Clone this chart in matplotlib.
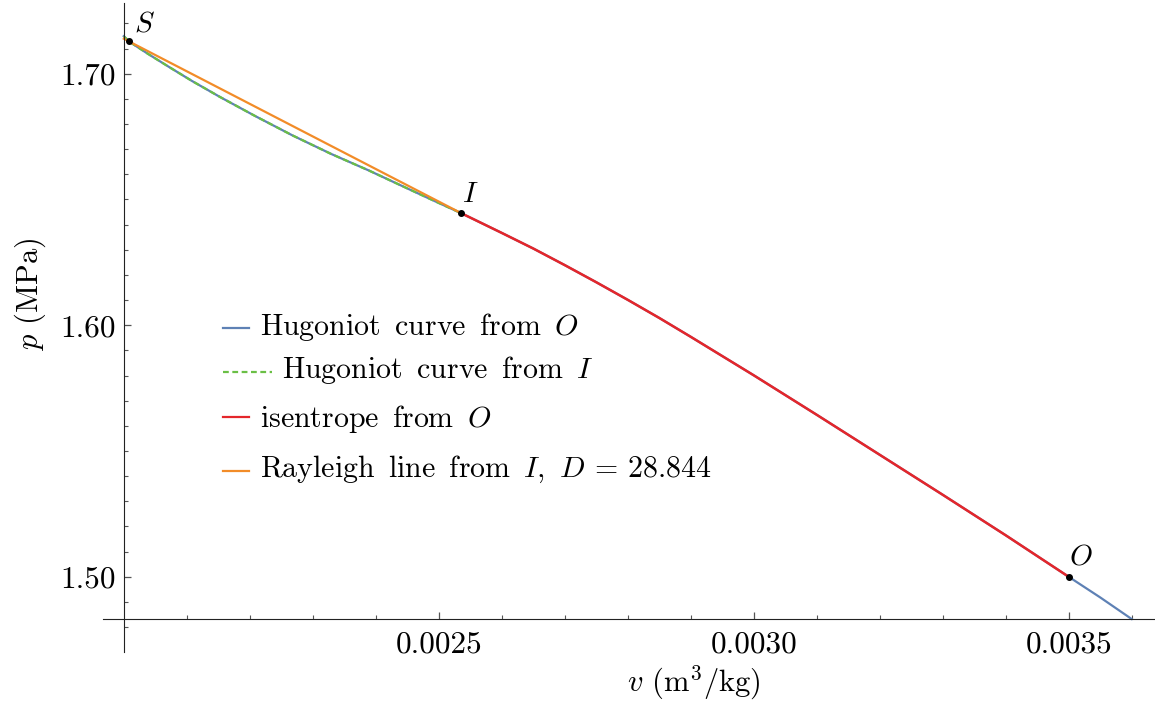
import matplotlib
matplotlib.use("Agg")
import matplotlib.pyplot as plt
from matplotlib.lines import Line2D
from matplotlib.ticker import MultipleLocator, FixedLocator

plt.rcParams["font.family"] = "cmr10"
plt.rcParams["mathtext.fontset"] = "cm"
plt.rcParams["axes.formatter.use_mathtext"] = True

# Hugoniot curve from I (specific volume m^3/kg, pressure MPa)
v_hug_I = [0.0020, 0.0020083, 0.0020383, 0.0020723, 0.0021083, 0.0021523, 0.0022083,
           0.0022683, 0.0023283, 0.0023883, 0.0024483, 0.0024983, 0.002536]
p_hug_I = [1.7149, 1.7128, 1.7079, 1.7026, 1.6971, 1.6908, 1.6832,
           1.6754, 1.6682, 1.6616, 1.6546, 1.6488, 1.6445]

# isentrope from O
v_isen = [0.002536, 0.0026, 0.00265, 0.0027, 0.00275, 0.0028, 0.00285, 0.0029, 0.0030,
          0.0031, 0.0032, 0.0033, 0.0034, 0.0035]
p_isen = [1.6445, 1.6367, 1.6305, 1.6239, 1.6171, 1.6101, 1.6029, 1.5954, 1.5801,
          1.5644, 1.5485, 1.5326, 1.5165, 1.5000]

# Hugoniot curve from O: same branch up to I, under the isentrope to O, then beyond O
v_hug_O = v_hug_I + v_isen[1:] + [0.00355, 0.0036]
p_hug_O = p_hug_I + p_isen[1:] + [1.4918, 1.4832]

# Rayleigh line from I
v_ray = [0.0020, 0.002536]
p_ray = [1.7139, 1.6445]

# labelled states
pt_names = ["S", "I", "O"]
pt_v = [0.0020083, 0.002536, 0.0035]
pt_p = [1.7128, 1.6445, 1.5000]

blue = "#5E81B5"
green = "#6ABF45"
red = "#E4262B"
orange = "#F28C28"
dash = (0, (2.6, 1.6))

W, H = 1155, 702
fig = plt.figure(figsize=(W / 100, H / 100), dpi=100)
ax = fig.add_axes([103 / W, 50 / H, 1052 / W, 649 / H])

ax.plot(v_hug_O, p_hug_O, color=blue, lw=1.6)
ax.plot(v_hug_I, p_hug_I, color=green, lw=1.6, ls=dash)
ax.plot(v_isen, p_isen, color=red, lw=1.8)
ax.plot(v_ray, p_ray, color=orange, lw=1.6)

ax.plot(pt_v, pt_p, "o", color="black", ms=4, zorder=5)
offsets = {"S": (11, 12), "I": (6.5, 13.5), "O": (8.5, 14)}
for name, vv, pp in zip(pt_names, pt_v, pt_p):
    ax.annotate("$%s$" % name, (vv, pp), xytext=offsets[name], textcoords="offset points",
                ha="center", va="center", fontsize=21)

ax.set_xlim(0.001967, 0.003637)
ax.set_ylim(1.4701, 1.7281)

for s in ["top", "right"]:
    ax.spines[s].set_visible(False)
ax.spines["left"].set_position(("data", 0.0020))
ax.spines["bottom"].set_position(("data", 1.4832))
ax.spines["left"].set_color("#222222")
ax.spines["bottom"].set_color("#222222")

ax.xaxis.set_major_locator(FixedLocator([0.0025, 0.0030, 0.0035]))
ax.xaxis.set_minor_locator(FixedLocator([0.0021 + 0.0001 * i for i in range(16)]))
ax.set_xticklabels(["0.0025", "0.0030", "0.0035"])
ax.yaxis.set_major_locator(FixedLocator([1.50, 1.60, 1.70]))
ax.yaxis.set_minor_locator(MultipleLocator(0.01))
ax.set_yticklabels(["1.50", "1.60", "1.70"])

ax.tick_params(which="both", direction="in", color="#555555", labelsize=22.5)
ax.tick_params(which="major", length=5.3, width=0.9, pad=8)
ax.tick_params(which="minor", length=2.9, width=0.8)
ax.tick_params(axis="y", which="major", pad=6)

fig.text(30 / W, 1 - 294 / H, r"$p$ (MPa)", rotation=90, ha="center", va="center",
         fontsize=22)
fig.text(694 / W, 1 - 683 / H, r"$v$ (m$^3$/kg)", ha="center", va="center",
         fontsize=22)

# legend, laid out by hand (handle, handle length, text start, handle y, baseline y)
sp = r" $\,$"
leg_labels = ["Hugoniot" + sp + "curve" + sp + "from" + sp + "$O$",
              "Hugoniot" + sp + "curve" + sp + "from" + sp + "$I$",
              "isentrope" + sp + "from" + sp + "$O$",
              "Rayleigh" + sp + "line" + sp + "from" + sp + "$I$," + sp + "$D$ = 28.844"]
leg_colors = [blue, green, red, orange]
leg_styles = ["-", dash, "-", "-"]
leg_len = [26, 49, 26, 26]
leg_text_x = [260, 282, 260, 260]
leg_line_y = [328, 372, 417, 471]
leg_base_y = [335, 378, 427, 477]
for lab, c, st, ln, tx, ly, by in zip(leg_labels, leg_colors, leg_styles, leg_len,
                                      leg_text_x, leg_line_y, leg_base_y):
    fig.add_artist(Line2D([223 / W, (223 + ln) / W], [1 - ly / H, 1 - ly / H],
                          color=c, lw=1.6, ls=st, transform=fig.transFigure))
    fig.text(tx / W, 1 - by / H, lab, ha="left", va="baseline", fontsize=21.5)

fig.savefig("out.png", dpi=100)
